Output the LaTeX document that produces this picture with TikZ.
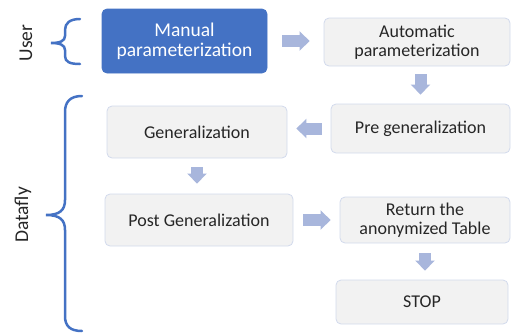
\documentclass[tikz,border=0pt]{standalone}
\usepackage{fontspec}
\setmainfont{Carlito}
\usetikzlibrary{arrows.meta}
\definecolor{boxblue}{HTML}{4472C4}
\definecolor{boxgray}{HTML}{F2F2F2}
\definecolor{boxedge}{HTML}{D2DAEC}
\definecolor{arrowblue}{HTML}{A8B6DC}
\definecolor{txt}{HTML}{262626}
\begin{document}
\begin{tikzpicture}[x=1pt,y=-1pt,
  box/.style={draw=boxedge, fill=boxgray, rounded corners=5pt, line width=0.8pt, text=txt,
    font=\fontsize{18}{19}\selectfont, align=center, inner sep=0pt},
  bluebox/.style={box, draw=boxblue, fill=boxblue, text=white, font=\fontsize{19.5}{20}\selectfont},
  barrow/.style={draw=arrowblue, line width=12pt, -{Triangle[width=19pt,length=10pt]}},
  bracestyle/.style={draw=boxblue, line width=2.5pt, line cap=round},
  sidelabel/.style={rotate=90, text=txt, font=\fontsize{19.5}{20}\selectfont, inner sep=0pt}]
\useasboundingbox (0,0) rectangle (512,333);
\node[bluebox, minimum width=165pt, minimum height=64pt] (man) at (184.5,41) {Manual\\parameterization};
\node[box, minimum width=186pt, minimum height=48pt] (auto) at (417,42) {Automatic\\parameterization};
\node[box, minimum width=179pt, minimum height=49pt] (pre) at (420.5,128.5) {Pre generalization};
\node[box, minimum width=180pt, minimum height=52pt] (gen) at (197,132) {Generalization};
\node[box, minimum width=188pt, minimum height=52pt] (post) at (199,220) {Post Generalization};
\node[box, minimum width=170pt, minimum height=46pt] (ret) at (425,220) {Return the\\anonymized Table};
\node[box, minimum width=172pt, minimum height=44pt] (stop) at (422,302) {STOP};
% block arrows
\draw[barrow, shorten <=15pt, shorten >=14pt] (man.east) -- (man.east -| auto.west);
\draw[barrow, shorten <=8pt, shorten >=9pt] (pre.north |- auto.south) -- (pre.north);
\draw[barrow, shorten <=9pt, shorten >=9pt] (pre.west) -- (pre.west -| gen.east);
\draw[barrow, shorten <=9pt, shorten >=10pt] (gen.south) -- (gen.south |- post.north);
\draw[barrow, shorten <=10pt, shorten >=9pt] (post.east) -- (post.east -| ret.west);
\draw[barrow, shorten <=10pt, shorten >=9pt] (ret.south) -- (ret.south |- stop.north);
% braces
\draw[bracestyle] (80,19) .. controls (70,19) and (65,23) .. (65,30) -- (65,36)
  .. controls (65,41) and (60,43) .. (51,43)
  .. controls (60,43) and (65,45) .. (65,50) -- (65,56)
  .. controls (65,62) and (70,64) .. (80,64);
\draw[bracestyle] (82,96) .. controls (70,96) and (65,102) .. (65,112) -- (65,200)
  .. controls (65,210) and (60,215) .. (46,215)
  .. controls (60,215) and (65,220) .. (65,230) -- (65,316)
  .. controls (65,326) and (70,331) .. (82,331);
\node[sidelabel] (user) at (26,43) {User};
\node[sidelabel] (datafly) at (23,215) {Datafly};
\end{tikzpicture}
\end{document}
